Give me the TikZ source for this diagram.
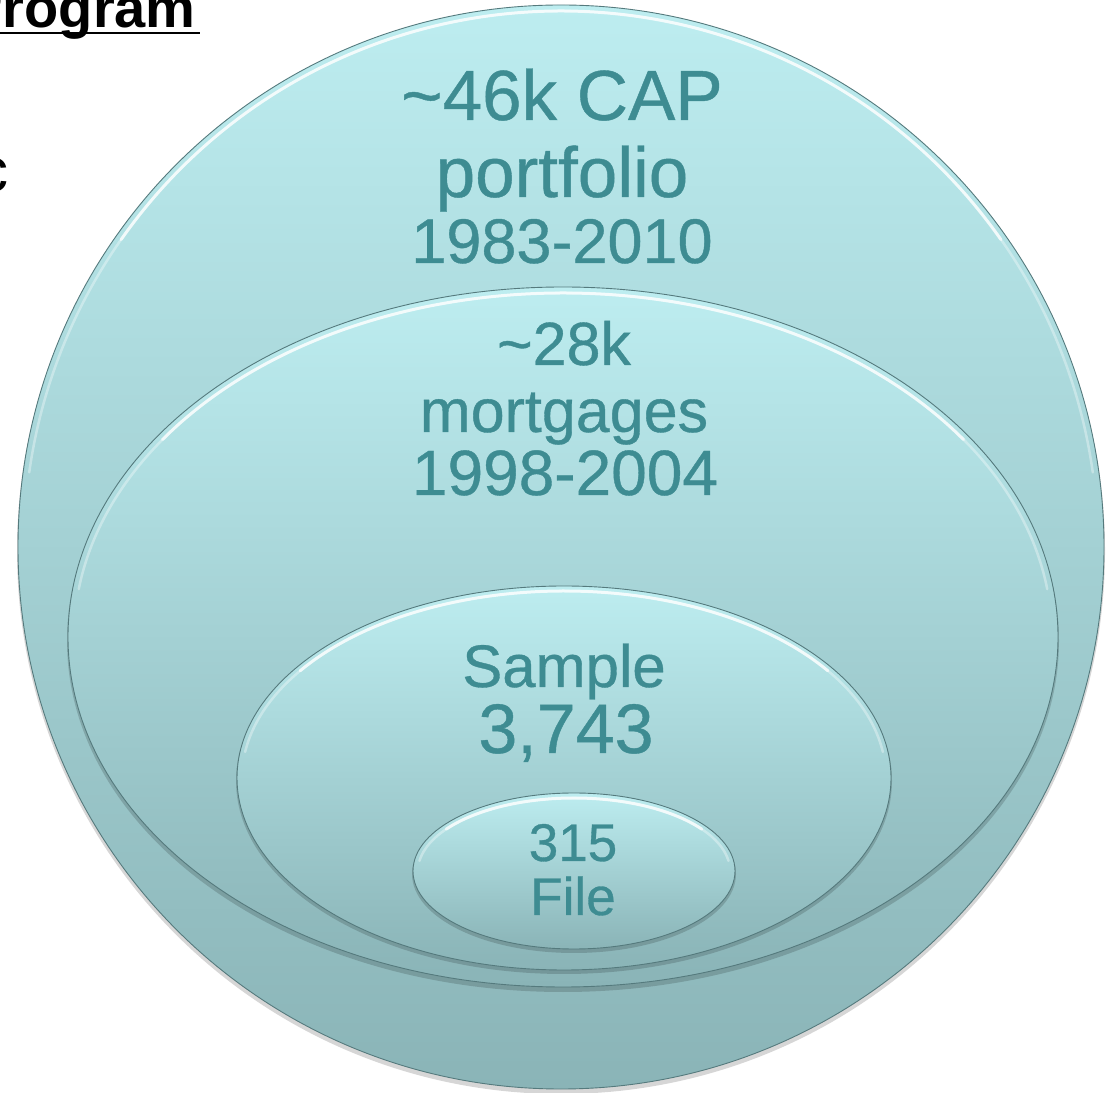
\documentclass[tikz,border=0pt]{standalone}
\usepackage{fontspec}
\setmainfont{Liberation Sans}
\newfontfamily\lblfont[FakeBold=0.6]{Liberation Sans}
\usetikzlibrary{shapes.geometric}
\definecolor{txt}{HTML}{3E8C92}
\definecolor{topc}{HTML}{BDEDF0}
\definecolor{botc}{HTML}{8AB4B7}
\definecolor{edgec}{HTML}{557A7D}
\begin{document}
\begin{tikzpicture}[x=1pt,y=1pt,
  ell/.style={ellipse, inner sep=0pt, outer sep=0pt, top color=topc, bottom color=botc, draw=edgec, line width=0.9pt},
  lbl/.style={anchor=base, text=txt, inner sep=0pt},
  shd/.style={fill=black, opacity=0.16},
  hlwide/.style={white, line width=2.5pt, opacity=0.35, line cap=round},
  hl/.style={white, line width=3pt, opacity=0.75, line cap=round}]
\useasboundingbox (0,0) rectangle (1113,1092);
\clip (0,0) rectangle (1113,1092);

% top-left fragments of slide text
\node[anchor=base east, inner sep=0pt, font=\bfseries\fontsize{56}{64}\selectfont] (prog) at (196,1064) {Program};
\coordinate (ulL) at (0,1059);
\coordinate (ulR) at (200,1059);
\draw[line width=2.5pt] (ulL) -- (ulR);
\node[anchor=base east, inner sep=0pt, font=\fontsize{62}{70}\selectfont] (cfrag) at (9,900) {c};

% outer circle
\fill[shd] (561,541) ellipse [x radius=544pt, y radius=543pt];
\node[ell, minimum width=1086pt, minimum height=1084pt] (big) at (561,545) {};
\draw[hlwide] (561,545) ++(8:537pt and 536pt) arc[start angle=8, end angle=172, x radius=537pt, y radius=536pt];
\draw[hl] (561,545) ++(35:537pt and 536pt) arc[start angle=35, end angle=145, x radius=537pt, y radius=536pt];

% 28k ellipse
\fill[shd] (563,451) ellipse [x radius=496pt, y radius=351pt];
\node[ell, minimum width=990pt, minimum height=700pt] (mid) at (563,455) {};
\draw[hlwide] (563,455) ++(8:489pt and 344pt) arc[start angle=8, end angle=172, x radius=489pt, y radius=344pt];
\draw[hl] (563,455) ++(35:489pt and 344pt) arc[start angle=35, end angle=145, x radius=489pt, y radius=344pt];

% sample ellipse
\fill[shd] (564,311) ellipse [x radius=328pt, y radius=193pt];
\node[ell, minimum width=654pt, minimum height=384pt] (samp) at (564,314) {};
\draw[hlwide] (564,314) ++(8:322pt and 187pt) arc[start angle=8, end angle=172, x radius=322pt, y radius=187pt];
\draw[hl] (564,314) ++(35:322pt and 187pt) arc[start angle=35, end angle=145, x radius=322pt, y radius=187pt];

% file ellipse
\fill[shd] (574,218) ellipse [x radius=162pt, y radius=79pt];
\node[ell, minimum width=322pt, minimum height=156pt] (file) at (574,221) {};
\draw[hlwide] (574,221) ++(8:156pt and 73pt) arc[start angle=8, end angle=172, x radius=156pt, y radius=73pt];
\draw[hl] (574,221) ++(35:156pt and 73pt) arc[start angle=35, end angle=145, x radius=156pt, y radius=73pt];

% labels
\node[lbl, font=\lblfont\fontsize{71}{80}\selectfont] (l1a) at (562,972) {\textasciitilde46k CAP};
\node[lbl, font=\lblfont\fontsize{71}{80}\selectfont] (l1b) at (562,895) {portfolio};
\node[lbl, font=\lblfont\fontsize{63}{72}\selectfont] (l1c) at (562,829) {1983-2010};

\node[lbl, font=\lblfont\fontsize{61}{70}\selectfont] (l2a) at (564,727) {\textasciitilde28k};
\node[lbl, font=\lblfont\fontsize{61}{70}\selectfont] (l2b) at (564,660) {mortgages};
\node[lbl, font=\lblfont\fontsize{64}{72}\selectfont] (l2c) at (565,597) {1998-2004};

\node[lbl, font=\lblfont\fontsize{60}{70}\selectfont] (l3a) at (564,405) {Sample};
\node[lbl, font=\lblfont\fontsize{70}{80}\selectfont] (l3b) at (566,339) {3,743};

\node[lbl, font=\lblfont\fontsize{53}{60}\selectfont] (l4a) at (573,231) {315};
\node[lbl, font=\lblfont\fontsize{53}{60}\selectfont] (l4b) at (573,177) {File};
\end{tikzpicture}
\end{document}
